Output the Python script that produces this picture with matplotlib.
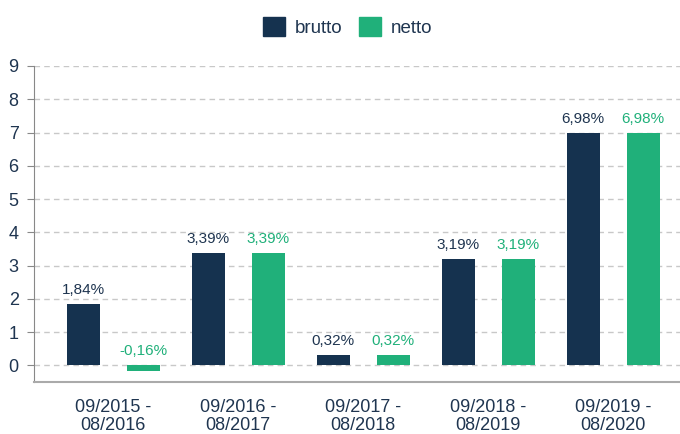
import matplotlib
matplotlib.use("Agg")
import matplotlib.pyplot as plt
import numpy as np
from matplotlib.patches import Patch

plt.rcParams['font.family'] = ['Liberation Sans', 'DejaVu Sans']

categories = ["09/2015 -\n08/2016", "09/2016 -\n08/2017", "09/2017 -\n08/2018",
              "09/2018 -\n08/2019", "09/2019 -\n08/2020"]
brutto = [1.84, 3.39, 0.32, 3.19, 6.98]
netto = [-0.16, 3.39, 0.32, 3.19, 6.98]
series_names = ["brutto", "netto"]
yticks = list(range(0, 10))

navy = "#15324f"
green = "#20b07a"
textc = "#1f3550"

fig = plt.figure(figsize=(6.8, 4.34), dpi=100)
ax = fig.add_axes([0.05, 0.1198, 0.95, 0.848 - 0.1198])

x = np.arange(len(categories))
w = 0.264
off = 0.24
ax.bar(x - off, brutto, w, color=navy, zorder=3)
ax.bar(x + off, netto, w, color=green, zorder=3)

def fmt(v):
    return f"{v:.2f}%".replace(".", ",")

for xi, v in zip(x, brutto):
    ax.annotate(fmt(v), (xi - off, max(v, 0)), xytext=(0, 5), textcoords="offset points",
                ha="center", va="bottom", fontsize=11, color=textc)
for xi, v in zip(x, netto):
    ax.annotate(fmt(v), (xi + off, max(v, 0)), xytext=(0, 5), textcoords="offset points",
                ha="center", va="bottom", fontsize=11, color=green)

ax.set_ylim(-0.5, 9)
ax.set_xlim(-0.632, 4.536)
ax.set_yticks(yticks)
ax.set_yticklabels([str(t) for t in yticks], fontsize=13, color=textc)
ax.set_xticks(x)
ax.set_xticklabels(categories, fontsize=13, color=textc, linespacing=1.1)
ax.tick_params(axis='x', length=0, pad=12)
ax.tick_params(axis='y', length=5, color="#888888", pad=6)
ax.grid(axis='y', color="#c8c8c8", linestyle=(0, (4, 3)), linewidth=1, zorder=0)
for s in ["top", "right"]:
    ax.spines[s].set_visible(False)
ax.spines["left"].set_color("#888888")
ax.spines["bottom"].set_color("#aaaaaa")
ax.spines["bottom"].set_linewidth(1.5)

handles = [Patch(color=navy, label=series_names[0]), Patch(color=green, label=series_names[1])]
fig.legend(handles=handles, loc="center", bbox_to_anchor=(347.5 / 680, 0.938), ncol=2, frameon=False,
           fontsize=13.5, labelcolor=textc, handlelength=1.17, handleheight=1.17, handletextpad=0.53,
           columnspacing=0.9, borderpad=0.2)

fig.savefig("out.png", dpi=100)
